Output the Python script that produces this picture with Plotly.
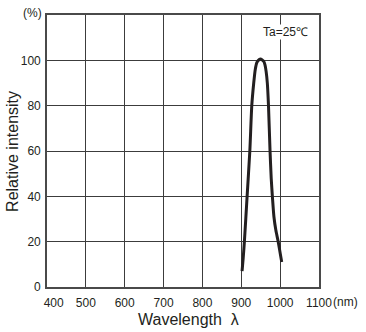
import plotly.graph_objects as go

# Data
wavelength = [902, 905, 908, 915, 922, 927, 932, 936, 940, 944, 948, 951, 955, 958, 961, 964, 967, 970, 974, 977, 980, 984, 989, 995, 1004]
intensity = [7, 13, 20, 40, 60, 80, 90, 96, 99, 100, 100.5, 100.5, 100, 99.5, 98, 95, 90, 80, 60, 48, 40, 31, 25, 20, 11]

x_ticks = [400, 500, 600, 700, 800, 900, 1000, 1100]
x_tick_labels = ["\u00a0\u00a0\u00a0\u00a0400", "500", "600", "700", "800", "900", "1000", "1100"]
y_ticks = [0, 20, 40, 60, 80, 100]
y_tick_labels = ["0", "20", "40", "60", "80", "100"]

INK = "#231f20"
GRID = "#3c3c3c"
FONT = "Liberation Sans, Arial, sans-serif"

fig = go.Figure()
fig.add_trace(go.Scatter(
    x=wavelength, y=intensity, mode="lines",
    line=dict(color=INK, width=3, shape="spline", smoothing=0.6),
    showlegend=False, hoverinfo="skip",
))

fig.update_layout(
    template="none",
    width=366, height=332,
    margin=dict(l=47, r=47, t=15, b=45, autoexpand=False),
    paper_bgcolor="white", plot_bgcolor="white",
    font=dict(family=FONT, size=12, color=INK),
    xaxis=dict(
        range=[400, 1100], tickmode="array", tickvals=x_ticks, ticktext=x_tick_labels,
        showgrid=True, gridcolor=GRID, gridwidth=1, automargin=False,
        showline=True, linecolor="#4a4a4a", linewidth=1.6, mirror=True,
        ticks="", zeroline=False, ticklabelstandoff=4,
        tickfont=dict(size=12, color=INK, family=FONT),
    ),
    yaxis=dict(
        range=[0, 120], tickmode="array", tickvals=y_ticks, ticktext=y_tick_labels,
        showgrid=True, gridcolor=GRID, gridwidth=1, automargin=False,
        showline=True, linecolor="#4a4a4a", linewidth=1.6, mirror=True,
        ticks="", zeroline=False, ticklabelstandoff=2,
        tickfont=dict(size=12, color=INK, family=FONT),
    ),
    annotations=[
        dict(text="Relative intensity", xref="paper", yref="paper", x=-0.129, y=0.5,
             xanchor="center", yanchor="middle", textangle=-90, showarrow=False,
             font=dict(size=16, color=INK, family=FONT)),
        dict(text="Wavelength\u00a0\u00a0λ", xref="paper", yref="paper", x=0.52, y=-0.12,
             xanchor="center", yanchor="middle", showarrow=False,
             font=dict(size=16, color=INK, family=FONT)),
        dict(text="(%)", xref="paper", yref="paper", x=-0.012, y=1.006,
             xanchor="right", yanchor="middle", showarrow=False,
             font=dict(size=12, color=INK, family=FONT)),
        dict(text="(nm)", xref="paper", yref="paper", x=1.045, y=-0.055,
             xanchor="left", yanchor="middle", showarrow=False,
             font=dict(size=12, color=INK, family=FONT)),
        dict(text="Ta=25℃", xref="x", yref="y", x=1014, y=112.5,
             xanchor="center", yanchor="middle", showarrow=False,
             bgcolor="white", borderpad=0,
             font=dict(size=12, color=INK, family=FONT)),
    ],
)

fig.write_html("out.html", config={"displayModeBar": False},
               post_script="document.body.style.margin='0';document.body.style.padding='0';")
